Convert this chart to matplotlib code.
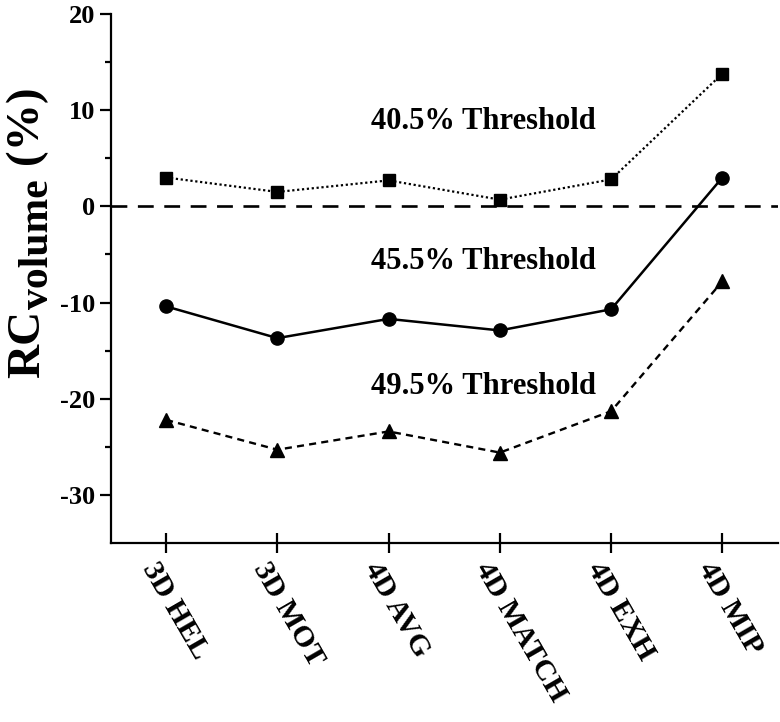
import matplotlib
matplotlib.use("Agg")
import matplotlib.pyplot as plt
from matplotlib.ticker import FixedLocator
from matplotlib.transforms import ScaledTranslation

categories = ["3D HEL", "3D MOT", "4D AVG", "4D MATCH", "4D EXH", "4D MIP"]
thr_405 = [3.0, 1.5, 2.7, 0.7, 2.8, 13.8]
thr_455 = [-10.4, -13.7, -11.7, -12.9, -10.7, 3.0]
thr_495 = [-22.2, -25.3, -23.4, -25.6, -21.3, -7.8]
labels = ["40.5% Threshold", "45.5% Threshold", "49.5% Threshold"]
label_y = [8.8, -5.7, -18.7]
yticks = [-30, -20, -10, 0, 10, 20]

FONT = "Liberation Serif"
plt.rcParams["font.family"] = [FONT, "DejaVu Serif"]
plt.rcParams["font.weight"] = "bold"
plt.rcParams["axes.unicode_minus"] = False

fig = plt.figure(figsize=(7.8, 7.22), dpi=100)
ax = fig.add_axes([110.5 / 780, 1 - 543 / 722, (778 - 110.5) / 780, (543 - 14) / 722])

x = list(range(len(categories)))
ax.axhline(0, color="black", lw=1.9, dashes=(6, 4), zorder=1)
ax.plot(x, thr_405, color="black", lw=1.6, linestyle=(0, (1, 1.2)),
        marker="s", ms=8.5, mfc="black", mec="black", zorder=3)
ax.plot(x, thr_455, color="black", lw=1.8, linestyle="-",
        marker="o", ms=9.5, mfc="black", mec="black", zorder=3)
ax.plot(x, thr_495, color="black", lw=1.7, linestyle=(0, (3, 2.2)),
        marker="^", ms=10.5, mfc="black", mec="black", zorder=3)

for lab, ly in zip(labels, label_y):
    ax.text(1.84, ly, lab, fontsize=22, fontweight="bold", family=FONT,
            ha="left", va="center")

ax.set_xlim(-0.5, 5.5)
ax.set_ylim(-35, 20)
ax.set_yticks(yticks)
ax.yaxis.set_minor_locator(FixedLocator([-25, -15, -5, 5, 15]))
ax.set_xticks(x)
ax.set_xticklabels(categories, rotation=-60, rotation_mode="anchor",
                   ha="left", va="center", fontsize=21.5, fontweight="bold", family=FONT)
for t in ax.get_yticklabels():
    t.set_fontsize(19)
    t.set_fontweight("bold")
    t.set_family(FONT)

for s in ["top", "right"]:
    ax.spines[s].set_visible(False)
for s in ["left", "bottom"]:
    ax.spines[s].set_linewidth(1.6)

ax.tick_params(axis="y", which="major", direction="out", length=8, width=1.6, pad=3)
ax.tick_params(axis="y", which="minor", direction="out", length=4.5, width=1.6)
ax.tick_params(axis="x", which="major", direction="inout", length=14.5, width=1.6, pad=2)

off = ScaledTranslation(-18 / 100, -8 / 100, fig.dpi_scale_trans)
for t in ax.get_xticklabels():
    t.set_transform(t.get_transform() + off)

# y-axis label: RC with large subscript "volume" and (%)
fig.canvas.draw()
renderer = fig.canvas.get_renderer()
base_x = 39
start_y = 722 - 378
size_main = 34
size_sub = 30
t1 = fig.text(base_x / 780, start_y / 722, "RC", rotation=90, rotation_mode="anchor",
              ha="left", va="baseline", fontsize=size_main, fontweight="bold", family=FONT)
w1 = t1.get_window_extent(renderer).height
t2 = fig.text((base_x + 9) / 780, (start_y + w1 + 1) / 722, "volume", rotation=90,
              rotation_mode="anchor", ha="left", va="baseline", fontsize=size_sub,
              fontweight="bold", family=FONT)
w2 = t2.get_window_extent(renderer).height
fig.text(base_x / 780, (start_y + w1 + w2 + 2) / 722, " (%)", rotation=90,
         rotation_mode="anchor", ha="left", va="baseline", fontsize=size_main,
         fontweight="bold", family=FONT)

fig.savefig("out.png", dpi=100)
